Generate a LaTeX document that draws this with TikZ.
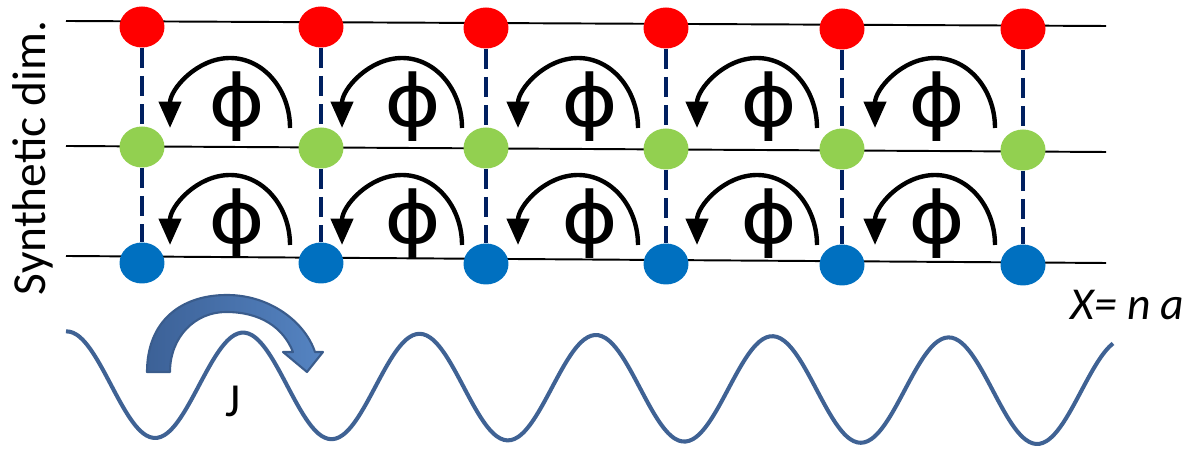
\documentclass[tikz,border=0pt]{standalone}
\usepackage{fontspec}
\setmainfont{Carlito}
\newfontfamily\phifont{DejaVu Sans}
\usepackage{xcolor}
\usepackage{tikz}
\usetikzlibrary{arrows.meta, positioning, shapes.geometric}

\definecolor{sitered}{HTML}{FF0000}
\definecolor{sitegreen}{HTML}{92D050}
\definecolor{siteblue}{HTML}{0070C0}
\definecolor{rungnavy}{HTML}{002060}
\definecolor{wavesteel}{HTML}{3F6294}
\definecolor{jdark}{HTML}{3C6197}
\definecolor{jlight}{HTML}{5584C2}
\definecolor{jedge}{HTML}{3A5C8C}

\newcommand{\fluxsym}{\scalebox{1.2}[1]{ϕ}}

\begin{document}
\begin{tikzpicture}[
x=0.02cm, y=0.02cm,
site/.style={ellipse, inner sep=0pt, minimum width=0.9cm, minimum height=0.82cm},
upper/.style={fill=sitered},
middle/.style={fill=sitegreen},
lower/.style={fill=siteblue},
leg/.style={line width=1.1pt},
rung/.style={rungnavy, line width=2.2pt, dash pattern=on 11.5pt off 4.5pt},
hop/.style={-{Triangle[length=15pt, width=12.5pt]}, line width=2.5pt},
flux/.style={font=\phifont\fontsize{41}{41}\selectfont, inner sep=0pt},
tag/.style={font=\fontsize{27}{27}\selectfont, inner sep=0pt},
wave/.style={wavesteel, line width=2.3pt},
jump/.style={draw=jedge, line width=1.2pt, left color=jdark, right color=jlight, line join=round}
]
\useasboundingbox (0,0) rectangle (1188,452);

% legs of the ladder
\coordinate (topL) at (66,431);
\coordinate (topR) at (1106,426);
\coordinate (midL) at (66,306);
\coordinate (midR) at (1106,300);
\coordinate (botL) at (66,196);
\coordinate (botR) at (1106,189);
\draw[leg] (topL) -- (topR);
\draw[leg] (midL) -- (midR);
\draw[leg] (botL) -- (botR);

% sites
\node (red1) [site, upper] at (142,425) {};
\node (red2) [site, upper] at (321,425) {};
\node (red3) [site, upper] at (486,424) {};
\node (red4) [site, upper] at (666,424) {};
\node (red5) [site, upper] at (842,423) {};
\node (red6) [site, upper] at (1023,423) {};

\node (green1) [site, middle] at (142,305) {};
\node (green2) [site, middle] at (321,304) {};
\node (green3) [site, middle] at (486,304) {};
\node (green4) [site, middle] at (666,303) {};
\node (green5) [site, middle] at (842,303) {};
\node (green6) [site, middle] at (1023,302) {};

\node (blue1) [site, lower] at (142,189) {};
\node (blue2) [site, lower] at (321,189) {};
\node (blue3) [site, lower] at (486,188) {};
\node (blue4) [site, lower] at (666,188) {};
\node (blue5) [site, lower] at (842,187) {};
\node (blue6) [site, lower] at (1023,187) {};

% rungs
\draw[rung] (red1) -- (green1);
\draw[rung] (red2) -- (green2);
\draw[rung] (red3) -- (green3);
\draw[rung] (red4) -- (green4);
\draw[rung] (red5) -- (green5);
\draw[rung] (red6) -- (green6);
\draw[rung] (green1) -- (blue1);
\draw[rung] (green2) -- (blue2);
\draw[rung] (green3) -- (blue3);
\draw[rung] (green4) -- (blue4);
\draw[rung] (green5) -- (blue5);
\draw[rung] (green6) -- (blue6);

% flux per plaquette
\node (fluxA) [flux] at (237,345) {\fluxsym};
\node (fluxB) [flux] at (413,345) {\fluxsym};
\node (fluxC) [flux] at (590,345) {\fluxsym};
\node (fluxD) [flux] at (769,345) {\fluxsym};
\node (fluxE) [flux] at (937,345) {\fluxsym};
\node (fluxF) [flux] at (237,228) {\fluxsym};
\node (fluxG) [flux] at (413,228) {\fluxsym};
\node (fluxH) [flux] at (590,228) {\fluxsym};
\node (fluxI) [flux] at (769,228) {\fluxsym};
\node (fluxJ) [flux] at (937,228) {\fluxsym};

\draw[hop] (290,324) arc[start angle=0, end angle=180, x radius=1.2cm, y radius=1.4cm];
\draw[hop] (462,324) arc[start angle=0, end angle=180, x radius=1.2cm, y radius=1.4cm];
\draw[hop] (638,324) arc[start angle=0, end angle=180, x radius=1.2cm, y radius=1.4cm];
\draw[hop] (817,324) arc[start angle=0, end angle=180, x radius=1.2cm, y radius=1.4cm];
\draw[hop] (995,324) arc[start angle=0, end angle=180, x radius=1.2cm, y radius=1.4cm];
\draw[hop] (290,207) arc[start angle=0, end angle=180, x radius=1.2cm, y radius=1.4cm];
\draw[hop] (462,207) arc[start angle=0, end angle=180, x radius=1.2cm, y radius=1.4cm];
\draw[hop] (638,207) arc[start angle=0, end angle=180, x radius=1.2cm, y radius=1.4cm];
\draw[hop] (817,207) arc[start angle=0, end angle=180, x radius=1.2cm, y radius=1.4cm];
\draw[hop] (995,207) arc[start angle=0, end angle=180, x radius=1.2cm, y radius=1.4cm];

% lattice potential
\draw[wave] plot[domain=66:1113, samples=300, smooth] (\x, {67 - 0.0068*(\x-155) - 53*cos(2.0408*(\x-155))});

% tunnelling arrow
\filldraw[jump] (147,80) .. controls (147,130) and (180,157) .. (227,157)
  .. controls (270,157) and (305,130) .. (315,100) -- (323,100) -- (307,80) -- (283,100) -- (293,100)
  .. controls (283,125) and (260,140) .. (226,140)
  .. controls (195,140) and (170,115) .. (170,80) -- cycle;

\node (axis) [tag, rotate=90] at (33,294) {Synthetic dim.};
\node (hopJ) [tag, anchor=base] at (233,35) {J};
\node (cell) [tag, anchor=base west, font=\fontsize{26}{26}\selectfont\itshape] at (1070,132) {X= n a};

\end{tikzpicture}
\end{document}
